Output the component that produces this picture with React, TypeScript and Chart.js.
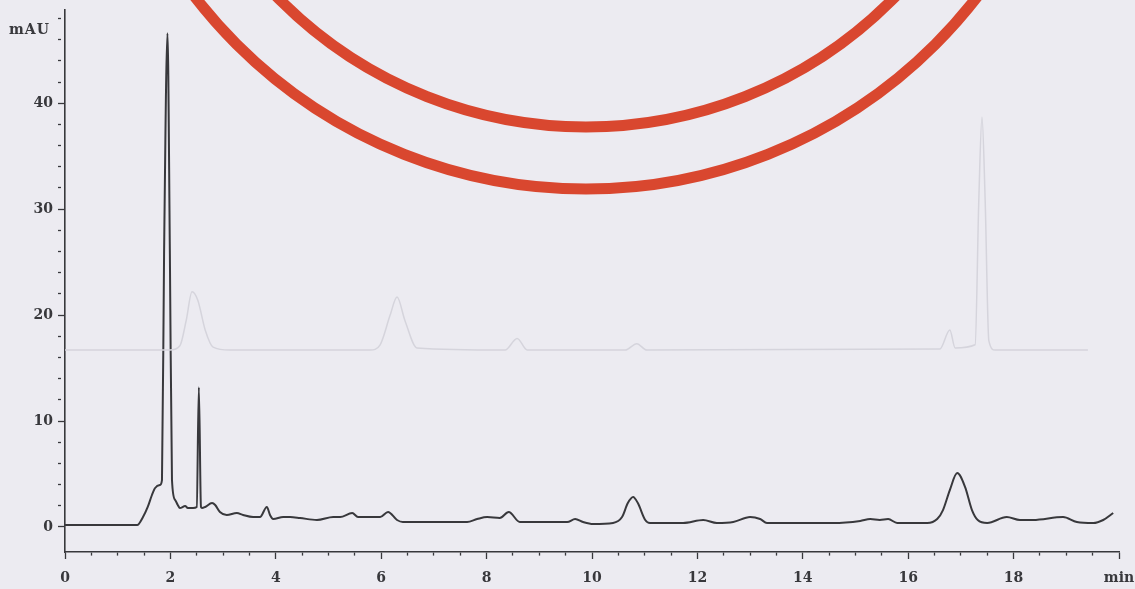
import React, { useEffect, useRef } from "react";
import { Chart, registerables } from "chart.js";

Chart.register(...registerables);

// ---- Data ----
// Main trace: retention time (min) and detector signal (mAU)
const timeMin = [
  0.0, 1.37, 1.48, 1.57, 1.65, 1.71, 1.8, 1.84, 1.88, 1.945, 1.99, 2.03, 2.09, 2.14,
  2.18, 2.28, 2.33, 2.43, 2.5, 2.54, 2.58, 2.6, 2.66, 2.79, 2.85, 2.94, 3.07, 3.26,
  3.38, 3.57, 3.7, 3.83, 3.89, 3.95, 4.14, 4.27, 4.46, 4.78, 5.09, 5.22, 5.45, 5.56,
  5.73, 5.98, 6.13, 6.3, 6.41, 6.98, 7.63, 7.82, 8.01, 8.25, 8.42, 8.63, 8.88, 9.53,
  9.68, 9.83, 10.02, 10.4, 10.57, 10.68, 10.78, 10.87, 11.01, 11.1, 11.73, 12.11,
  12.37, 12.68, 13.0, 13.19, 13.32, 13.95, 14.57, 15.09, 15.28, 15.46, 15.62, 15.79,
  16.36, 16.55, 16.66, 16.79, 16.93, 17.08, 17.21, 17.32, 17.5, 17.87, 18.12, 18.37,
  18.94, 19.2, 19.51, 19.7, 19.89,
];
const signalMAU = [
  0.19, 0.19, 0.94, 1.89, 3.02, 3.68, 3.96, 4.43, 25.8, 46.6, 25.8, 4.43, 2.55, 2.08,
  1.79, 1.98, 1.79, 1.79, 1.89, 13.2, 1.89, 1.79, 1.89, 2.26, 2.08, 1.42, 1.13, 1.32,
  1.13, 0.94, 0.94, 1.89, 1.13, 0.75, 0.94, 0.94, 0.85, 0.66, 0.94, 0.94, 1.32, 0.94,
  0.94, 0.94, 1.42, 0.66, 0.47, 0.47, 0.47, 0.75, 0.94, 0.85, 1.42, 0.47, 0.47, 0.47,
  0.75, 0.47, 0.28, 0.38, 0.94, 2.26, 2.83, 2.26, 0.66, 0.38, 0.38, 0.66,
  0.38, 0.47, 0.94, 0.75, 0.38, 0.38, 0.38, 0.57, 0.75, 0.66, 0.75, 0.38,
  0.38, 0.75, 1.6, 3.49, 5.09, 3.77, 1.6, 0.66, 0.38, 0.94, 0.66, 0.66,
  0.94, 0.47, 0.38, 0.66, 1.32,
];

// Faint trace showing through from the reverse side of the paper
const reverseTimeMin = [
  0.0, 1.99, 2.18, 2.3, 2.41, 2.52, 2.66, 2.81, 3.13, 5.79, 5.98, 6.17, 6.3, 6.45, 6.68,
  8.35, 8.58, 8.77, 10.63, 10.85, 11.04, 16.6, 16.79, 16.89, 17.27, 17.34, 17.4, 17.46,
  17.53, 17.65, 19.41,
];
const reverseSignalMAU = [
  16.7, 16.7, 17.1, 19.5, 22.2, 21.4, 18.6, 16.98, 16.7, 16.7, 17.2, 20.0, 21.7, 19.5, 16.9,
  16.7, 17.8, 16.7, 16.7, 17.3, 16.7, 16.8, 18.6, 16.9, 17.2, 30.9, 38.7, 30.9,
  17.6, 16.7, 16.7,
];

// Axis ticks
const xMajorTicks = [0, 2, 4, 6, 8, 10, 12, 14, 16, 18];
const xEndTick = 20;
const xEndLabel = "min";
const yMajorTicks = [0, 10, 20, 30, 40];
const yUnitLabel = "mAU";

const X_MIN = 0;
const X_MAX = 20;
const Y_MIN = -2.36;
const Y_MAX = 48.8;

const PAPER = "#ecebf1";
const INK = "#38383c";
const STAMP = "#d9472f";
const SERIF = "'DejaVu Serif', 'Liberation Serif', serif";

const decorPlugin = {
  id: "decor",
  afterDraw(chart: any) {
    const ctx = chart.ctx as CanvasRenderingContext2D;
    ctx.save();
    // unit label at the top of the y axis
    ctx.fillStyle = INK;
    ctx.font = `bold 14px ${SERIF}`;
    (ctx as any).letterSpacing = "1px";
    ctx.textAlign = "left";
    ctx.textBaseline = "middle";
    ctx.fillText(yUnitLabel, 9, 30);
    (ctx as any).letterSpacing = "0px";
    // red seal stamp (two concentric rings), partly off the top edge
    ctx.strokeStyle = STAMP;
    ctx.lineWidth = 11;
    [432, 494].forEach((r) => {
      ctx.beginPath();
      ctx.arc(586, -305, r, 0, Math.PI);
      ctx.stroke();
    });
    ctx.restore();
  },
};

export default function App() {
  const canvasRef = useRef<HTMLCanvasElement | null>(null);

  useEffect(() => {
    const canvas = canvasRef.current;
    if (!canvas) return;

    const mainData = timeMin.map((t, i) => ({ x: t, y: signalMAU[i] }));
    const reverseData = reverseTimeMin.map((t, i) => ({ x: t, y: reverseSignalMAU[i] }));

    const chart = new Chart(canvas, {
      type: "line",
      data: {
        datasets: [
          {
            label: "reverse side",
            data: reverseData,
            borderColor: "#d5d4dc",
            borderWidth: 1.5,
            pointRadius: 0,
            cubicInterpolationMode: "monotone",
            fill: false,
          },
          {
            label: "signal",
            data: mainData,
            borderColor: INK,
            borderWidth: 2,
            pointRadius: 0,
            cubicInterpolationMode: "monotone",
            fill: false,
          },
        ],
      },
      options: {
        responsive: false,
        animation: false,
        events: [],
        layout: { padding: { top: 10, right: 16, left: 0, bottom: 0 } },
        plugins: {
          legend: { display: false },
          tooltip: { enabled: false },
          title: { display: false },
        },
        scales: {
          x: {
            type: "linear",
            min: X_MIN,
            max: X_MAX,
            afterBuildTicks: (scale: any) => {
              const t: { value: number }[] = [];
              for (let v = X_MIN; v <= X_MAX + 1e-9; v += 0.5) t.push({ value: v });
              scale.ticks = t;
            },
            afterFit: (scale: any) => {
              scale.height = 37;
              scale.paddingLeft = 0;
              scale.paddingRight = 0;
            },
            ticks: {
              autoSkip: false,
              maxRotation: 0,
              padding: 11,
              color: INK,
              font: { family: SERIF, size: 14, weight: "bold" },
              callback: (v: any) => {
                const n = Number(v);
                if (Math.abs(n - xEndTick) < 1e-9) return xEndLabel;
                return xMajorTicks.includes(n) ? String(n) : "";
              },
            },
            grid: {
              drawOnChartArea: false,
              drawTicks: true,
              tickLength: 7,
              tickColor: INK,
              tickWidth: 1.3,
              tickBorderDash: (c: any) => {
                const n = c.tick ? c.tick.value : 0;
                return Math.abs(n % 2) < 1e-9 ? [] : [3, 40];
              },
            },
            border: { display: true, color: INK, width: 1.6 },
          },
          y: {
            type: "linear",
            min: Y_MIN,
            max: Y_MAX,
            afterBuildTicks: (scale: any) => {
              const t: { value: number }[] = [];
              for (let v = 0; v <= 48; v += 2) t.push({ value: v });
              scale.ticks = t;
            },
            afterFit: (scale: any) => {
              scale.width = 65;
              scale.paddingTop = 0;
              scale.paddingBottom = 0;
            },
            ticks: {
              autoSkip: false,
              padding: 5,
              color: INK,
              font: { family: SERIF, size: 14, weight: "bold" },
              callback: (v: any) => {
                const n = Number(v);
                return yMajorTicks.includes(n) ? String(n) : "";
              },
            },
            grid: {
              drawOnChartArea: false,
              drawTicks: true,
              tickLength: 7,
              tickColor: INK,
              tickWidth: 1.3,
              tickBorderDash: (c: any) => {
                const n = c.tick ? c.tick.value : 0;
                return Math.abs(n % 10) < 1e-9 ? [] : [3, 40];
              },
            },
            border: { display: true, color: INK, width: 1.6 },
          },
        },
      },
      plugins: [decorPlugin],
    });

    return () => {
      chart.destroy();
    };
  }, []);

  return (
    <div
      style={{
        position: "fixed",
        left: 0,
        top: 0,
        width: 1135,
        height: 589,
        background: PAPER,
        overflow: "hidden",
      }}
    >
      <canvas ref={canvasRef} width={1135} height={589} style={{ display: "block" }} />
    </div>
  );
}
